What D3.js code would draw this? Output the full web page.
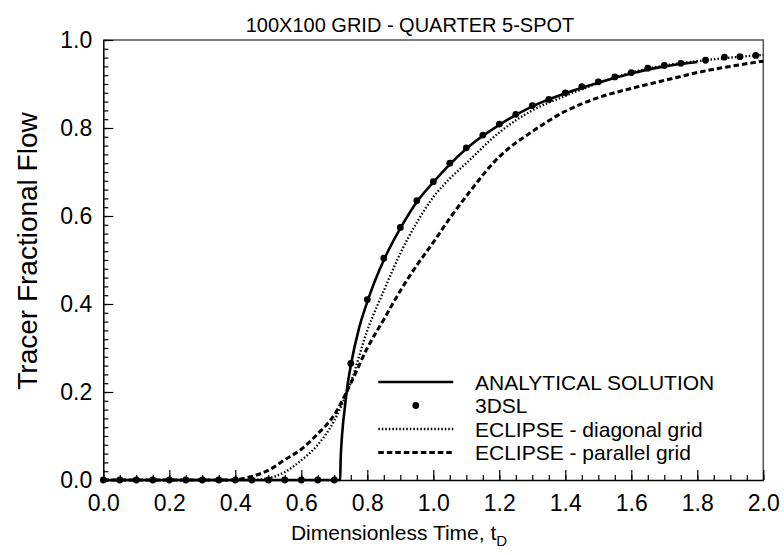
<!DOCTYPE html>
<html>
<head>
<meta charset="utf-8">
<script src="https://cdn.jsdelivr.net/npm/d3@7"></script>
<style>
  html, body { margin: 0; padding: 0; background: #fff; }
  svg { display: block; font-family: "Liberation Sans", Arial, sans-serif; }
</style>
</head>
<body>
<svg id="chart" width="784" height="555"></svg>
<script>
// ---------- data ----------
const chartTitle = "100X100 GRID - QUARTER 5-SPOT";
const xTickValues = [0.0, 0.2, 0.4, 0.6, 0.8, 1.0, 1.2, 1.4, 1.6, 1.8, 2.0];
const yTickValues = [0.0, 0.2, 0.4, 0.6, 0.8, 1.0];

const analyticalT = [0, 0.7178, 0.719, 0.7215, 0.7255, 0.732, 0.74, 0.75, 0.775, 0.80, 0.85, 0.90, 0.95, 1.00, 1.10, 1.20, 1.30, 1.40, 1.50, 1.60, 1.70, 1.80];
const analyticalF = [0, 0, 0.04, 0.08, 0.12, 0.165, 0.215, 0.26, 0.345, 0.405, 0.50, 0.572, 0.632, 0.677, 0.753, 0.807, 0.849, 0.879, 0.903, 0.924, 0.940, 0.950];

const dslT = [0.00, 0.05, 0.10, 0.15, 0.20, 0.25, 0.30, 0.35, 0.40, 0.45, 0.50, 0.55, 0.60, 0.65, 0.70,
              0.75, 0.80, 0.85, 0.90, 0.95, 1.00, 1.05, 1.10, 1.15, 1.20, 1.25, 1.30, 1.35, 1.40, 1.45,
              1.50, 1.55, 1.60, 1.65, 1.70, 1.75, 1.825, 1.882, 1.929, 1.977];
const dslF = [0, 0, 0, 0, 0, 0, 0, 0, 0, 0, 0, 0, 0, 0, 0,
              0.265, 0.41, 0.504, 0.574, 0.635, 0.678, 0.72, 0.755, 0.784, 0.809, 0.831, 0.851, 0.865, 0.880, 0.894,
              0.905, 0.916, 0.926, 0.936, 0.942, 0.947, 0.954, 0.961, 0.962, 0.965];

const diagT = [0, 0.45, 0.50, 0.55, 0.60, 0.65, 0.70, 0.75, 0.80, 0.85, 0.90, 0.95, 1.00, 1.05, 1.10, 1.20, 1.30, 1.40, 1.50, 1.60, 1.70, 1.80, 1.90, 2.00];
const diagF = [0, 0, 0.004, 0.018, 0.045, 0.08, 0.135, 0.222, 0.34, 0.43, 0.515, 0.585, 0.643, 0.685, 0.72, 0.79, 0.84, 0.873, 0.902, 0.926, 0.942, 0.952, 0.960, 0.966];

const paraT = [0, 0.38, 0.45, 0.50, 0.55, 0.60, 0.65, 0.70, 0.75, 0.80, 0.85, 0.90, 0.95, 1.00, 1.05, 1.10, 1.20, 1.30, 1.40, 1.50, 1.60, 1.70, 1.80, 1.90, 2.00];
const paraF = [0, 0, 0.008, 0.022, 0.046, 0.07, 0.105, 0.148, 0.22, 0.30, 0.365, 0.43, 0.488, 0.540, 0.595, 0.645, 0.735, 0.792, 0.838, 0.869, 0.890, 0.908, 0.926, 0.940, 0.952];

const legendLabels = ["ANALYTICAL SOLUTION", "3DSL", "ECLIPSE - diagonal grid", "ECLIPSE - parallel grid"];

// ---------- layout ----------
const svg = d3.select("#chart");
const mLeft = 103.3, mRight = 763.3, mTop = 40, mBottom = 480;

const x = d3.scaleLinear().domain([0, 2]).range([mLeft, mRight]);
const y = d3.scaleLinear().domain([0, 1]).range([mBottom, mTop]);

const zip = (a, b) => a.map((v, i) => [v, b[i]]);
const line = d3.line().x(d => x(d[0])).y(d => y(d[1])).curve(d3.curveMonotoneX);

// frame (top and right)
svg.append("path")
  .attr("d", `M${mLeft},${mTop}H${mRight}V${mBottom}`)
  .attr("fill", "none").attr("stroke", "#555").attr("stroke-width", 1.5);

// curves
const plot = svg.append("g");
plot.append("path").datum(zip(paraT, paraF)).attr("d", line)
  .attr("fill", "none").attr("stroke", "#000").attr("stroke-width", 3)
  .attr("stroke-dasharray", "5.5,3");
plot.append("path").datum(zip(diagT, diagF)).attr("d", line)
  .attr("fill", "none").attr("stroke", "#000").attr("stroke-width", 2.3)
  .attr("stroke-dasharray", "1.5,2");
plot.append("path").datum(zip(analyticalT, analyticalF)).attr("d", line)
  .attr("fill", "none").attr("stroke", "#000").attr("stroke-width", 2.6);
plot.selectAll("circle.dsl").data(zip(dslT, dslF)).enter().append("circle")
  .attr("class", "dsl")
  .attr("cx", d => x(d[0])).attr("cy", d => y(d[1])).attr("r", 3.4).attr("fill", "#000");

// axes
const xMinor = d3.range(0, 2.0001, 0.05);
const yMinor = d3.range(0, 1.0001, 0.02);

const xAxis = svg.append("g").attr("transform", `translate(0,${mBottom})`)
  .call(d3.axisBottom(x).tickValues(xTickValues).tickFormat(d3.format(".1f")).tickSizeInner(-10).tickSizeOuter(0).tickPadding(15));
xAxis.select(".domain").attr("stroke", "#000").attr("stroke-width", 1.5);
xAxis.selectAll("text").attr("font-size", 23).attr("fill", "#000")
  .attr("font-family", "Liberation Sans, Arial, sans-serif");
xAxis.selectAll(".tick line").attr("stroke", "#000").attr("stroke-width", 1.2);
svg.append("g").attr("transform", `translate(0,${mBottom})`)
  .call(d3.axisBottom(x).tickValues(xMinor).tickFormat("").tickSizeInner(-5).tickSizeOuter(0))
  .call(g => g.select(".domain").remove())
  .selectAll(".tick line").attr("stroke", "#000").attr("stroke-width", 1.2);

const yAxis = svg.append("g").attr("transform", `translate(${mLeft},0)`)
  .call(d3.axisLeft(y).tickValues(yTickValues).tickFormat(d3.format(".1f")).tickSizeInner(-10).tickSizeOuter(0).tickPadding(11));
yAxis.select(".domain").attr("stroke", "#000").attr("stroke-width", 1.5);
yAxis.selectAll("text").attr("font-size", 23).attr("fill", "#000")
  .attr("font-family", "Liberation Sans, Arial, sans-serif");
yAxis.selectAll(".tick line").attr("stroke", "#000").attr("stroke-width", 1.2);
svg.append("g").attr("transform", `translate(${mLeft},0)`)
  .call(d3.axisLeft(y).tickValues(yMinor).tickFormat("").tickSizeInner(-5).tickSizeOuter(0))
  .call(g => g.select(".domain").remove())
  .selectAll(".tick line").attr("stroke", "#000").attr("stroke-width", 1.2);

// titles
svg.append("text").attr("x", 410).attr("y", 32)
  .attr("text-anchor", "middle").attr("font-size", 20).text(chartTitle);

const xt = svg.append("text").attr("x", 399).attr("y", 540)
  .attr("text-anchor", "middle").attr("font-size", 21);
xt.append("tspan").text("Dimensionless Time, t");
xt.append("tspan").attr("dy", 6).attr("font-size", 15).text("D");

svg.append("text").attr("transform", `translate(37,251) rotate(-90)`)
  .attr("text-anchor", "middle").attr("font-size", 28).text("Tracer Fractional Flow");

// legend
const legX1 = 378.3, legX2 = 453.3, legText = 475, legY0 = 382, legDy = 23.5;
const leg = svg.append("g");
legendLabels.forEach((lab, i) => {
  const yy = legY0 + i * legDy;
  if (i === 0) {
    leg.append("line").attr("x1", legX1).attr("x2", legX2).attr("y1", yy).attr("y2", yy)
      .attr("stroke", "#000").attr("stroke-width", 2.6);
  } else if (i === 1) {
    leg.append("circle").attr("cx", (legX1 + legX2) / 2).attr("cy", yy).attr("r", 3.4).attr("fill", "#000");
  } else if (i === 2) {
    leg.append("line").attr("x1", legX1).attr("x2", legX2).attr("y1", yy).attr("y2", yy)
      .attr("stroke", "#000").attr("stroke-width", 2.3).attr("stroke-dasharray", "1.5,2");
  } else {
    leg.append("line").attr("x1", legX1).attr("x2", legX2).attr("y1", yy).attr("y2", yy)
      .attr("stroke", "#000").attr("stroke-width", 3).attr("stroke-dasharray", "5.5,3");
  }
  leg.append("text").attr("x", legText).attr("y", yy).attr("dy", "0.36em")
    .attr("font-size", 21).text(lab);
});
</script>
</body>
</html>
